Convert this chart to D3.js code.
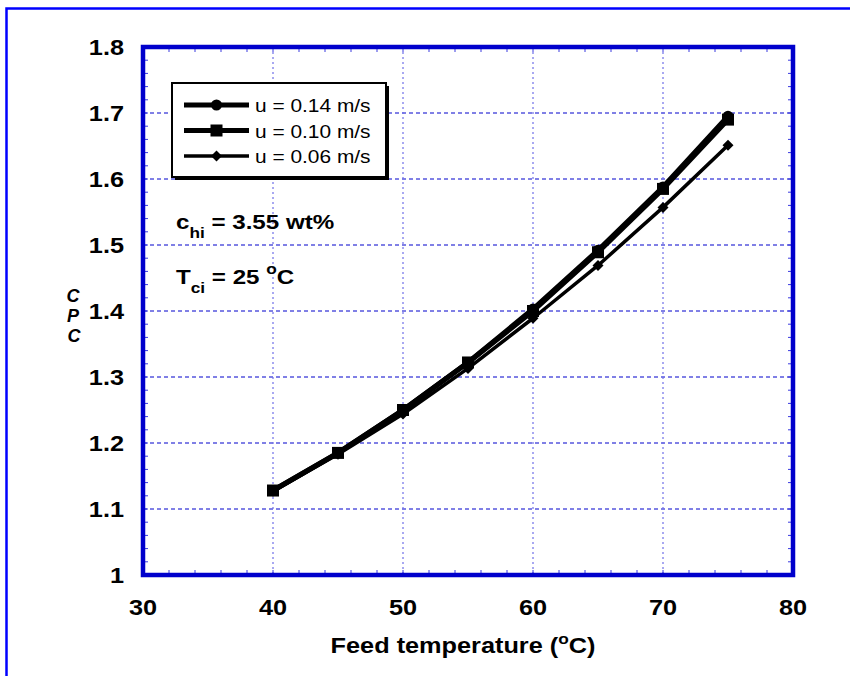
<!DOCTYPE html>
<html>
<head>
<meta charset="utf-8">
<script src="https://cdn.jsdelivr.net/npm/d3@7"></script>
<style>
  html, body { margin: 0; padding: 0; background: #fff; }
  svg { display: block; font-family: "Liberation Sans", Arial, sans-serif; }
</style>
</head>
<body>
<svg id="chart" width="850" height="676"></svg>
<script>
// Feed temperature (°C)
const temps = [40, 45, 50, 55, 60, 65, 70, 75];
// Ratio values for each cross-flow velocity
const u014 = [1.128, 1.185, 1.250, 1.322, 1.403, 1.492, 1.588, 1.695];
const u010 = [1.128, 1.185, 1.250, 1.322, 1.400, 1.489, 1.585, 1.690];
const u006 = [1.127, 1.183, 1.244, 1.313, 1.389, 1.469, 1.557, 1.651];
const seriesNames = ["u = 0.14 m/s", "u = 0.10 m/s", "u = 0.06 m/s"];
const xTicks = [30, 40, 50, 60, 70, 80];
const yTicks = [1, 1.1, 1.2, 1.3, 1.4, 1.5, 1.6, 1.7, 1.8];

const svg = d3.select("#chart");
const axisBlue = "#0000cc";

// text placed at (x, y) and widened horizontally around its anchor
function stext(parent, px, py, size, anchor, bold, sx) {
  return parent.append("text")
    .attr("transform", `translate(${px},${py}) scale(${sx || 1.15},1)`)
    .attr("text-anchor", anchor || "start")
    .attr("font-size", size)
    .attr("font-weight", bold === false ? "normal" : "bold");
}

// outer frame
svg.append("path")
  .attr("d", "M6.5,690 L6.5,8.5 L860,8.5")
  .attr("fill", "none").attr("stroke", "#0000ff").attr("stroke-width", 2.5);

const L = 143, R = 793, T = 47, B = 575;
const x = d3.scaleLinear().domain([30, 80]).range([L, R]);
const y = d3.scaleLinear().domain([1, 1.8]).range([B, T]);

// grid
const grid = svg.append("g");
grid.selectAll(".hg").data(yTicks.slice(1, -1)).enter().append("line")
  .attr("x1", L).attr("x2", R).attr("y1", d => y(d)).attr("y2", d => y(d))
  .attr("stroke", "#0000cc").attr("stroke-width", 1).attr("stroke-dasharray", "4,3");
grid.selectAll(".vg").data(xTicks.slice(1, -1)).enter().append("line")
  .attr("y1", T).attr("y2", B).attr("x1", d => x(d)).attr("x2", d => x(d))
  .attr("stroke", "#6f6fe8").attr("stroke-width", 1.2).attr("stroke-dasharray", "2,3");

// minor inside ticks on all four sides
const xMinor = d3.range(32, 80, 2);
const yMinor = d3.range(1.02, 1.8, 0.02);
const tg = svg.append("g").attr("stroke", "#3a3ae0").attr("stroke-width", 1);
xMinor.forEach(v => {
  tg.append("line").attr("x1", x(v)).attr("x2", x(v)).attr("y1", B).attr("y2", B - 5);
  tg.append("line").attr("x1", x(v)).attr("x2", x(v)).attr("y1", T).attr("y2", T + 5);
});
yMinor.forEach(v => {
  tg.append("line").attr("y1", y(v)).attr("y2", y(v)).attr("x1", L).attr("x2", L + 5);
  tg.append("line").attr("y1", y(v)).attr("y2", y(v)).attr("x1", R).attr("x2", R - 5);
});

// series
const rows = [u014, u010, u006];
const widths = [5, 5, 3.5];
const line = d3.line().x(d => x(d[0])).y(d => y(d[1]));
const markers = [
  (g, cx, cy) => g.append("circle").attr("cx", cx).attr("cy", cy).attr("r", 5.5),
  (g, cx, cy) => g.append("rect").attr("x", cx - 6).attr("y", cy - 6).attr("width", 12).attr("height", 12),
  (g, cx, cy) => g.append("path").attr("d", `M${cx},${cy - 5.5}L${cx + 5.5},${cy}L${cx},${cy + 5.5}L${cx - 5.5},${cy}Z`)
];
const dataG = svg.append("g");
[2, 0, 1].forEach(i => {
  const pts = temps.map((t, k) => [t, rows[i][k]]);
  dataG.append("path").attr("d", line(pts)).attr("fill", "none")
    .attr("stroke", "#000").attr("stroke-width", widths[i]).attr("stroke-linejoin", "round");
  const mg = dataG.append("g").attr("fill", "#000");
  pts.forEach(p => markers[i](mg, x(p[0]), y(p[1])));
});

// axes frame
svg.append("rect").attr("x", L).attr("y", T).attr("width", R - L).attr("height", B - T)
  .attr("fill", "none").attr("stroke", axisBlue).attr("stroke-width", 4.5);

// tick labels
yTicks.forEach(d => stext(svg, 124, y(d) + 8, 22, "end").text(d3.format("")(d)));
xTicks.forEach(d => stext(svg, x(d), 615, 22, "middle").text(d));

// x axis title
const xt = stext(svg, 463, 653, 22, "middle");
xt.append("tspan").text("Feed temperature (");
xt.append("tspan").attr("font-size", 15).attr("dy", -9).text("o");
xt.append("tspan").attr("dy", 9).text("C)");

// y axis title (stacked letters)
const ylab = svg.append("g").attr("font-size", 18).attr("font-weight", "bold")
  .attr("font-style", "italic").attr("text-anchor", "middle");
ylab.append("text").attr("x", 73).attr("y", 302).text("C");
ylab.append("text").attr("x", 73).attr("y", 322).text("P");
ylab.append("text").attr("x", 74).attr("y", 342).text("C");

// legend
const lx = 172, ly = 83, lw = 214, lh = 94;
svg.append("rect").attr("x", lx + 3).attr("y", ly + 3).attr("width", lw).attr("height", lh).attr("fill", "#000");
svg.append("rect").attr("x", lx).attr("y", ly).attr("width", lw).attr("height", lh)
  .attr("fill", "#fff").attr("stroke", "#000").attr("stroke-width", 2);
const ys = [105, 130.5, 156];
seriesNames.forEach((name, i) => {
  const g = svg.append("g");
  g.append("line").attr("x1", 184).attr("x2", 249).attr("y1", ys[i]).attr("y2", ys[i])
    .attr("stroke", "#000").attr("stroke-width", widths[i]);
  markers[i](g.append("g").attr("fill", "#000"), 216.5, ys[i]);
  stext(g, 255, ys[i] + 7, 19, "start", false, 1.1).text(name);
});

// operating conditions
const a1 = stext(svg, 176, 229, 21, "start");
a1.append("tspan").text("c");
a1.append("tspan").attr("font-size", 15).attr("dy", 9).text("hi");
a1.append("tspan").attr("dy", -9).text(" = 3.55 wt%");
const a2 = stext(svg, 176, 284, 21, "start");
a2.append("tspan").text("T");
a2.append("tspan").attr("font-size", 15).attr("dy", 9).text("ci");
a2.append("tspan").attr("dy", -9).text(" = 25 ");
a2.append("tspan").attr("font-size", 15).attr("dy", -10).text("o");
a2.append("tspan").attr("dy", 10).text("C");
</script>
</body>
</html>
